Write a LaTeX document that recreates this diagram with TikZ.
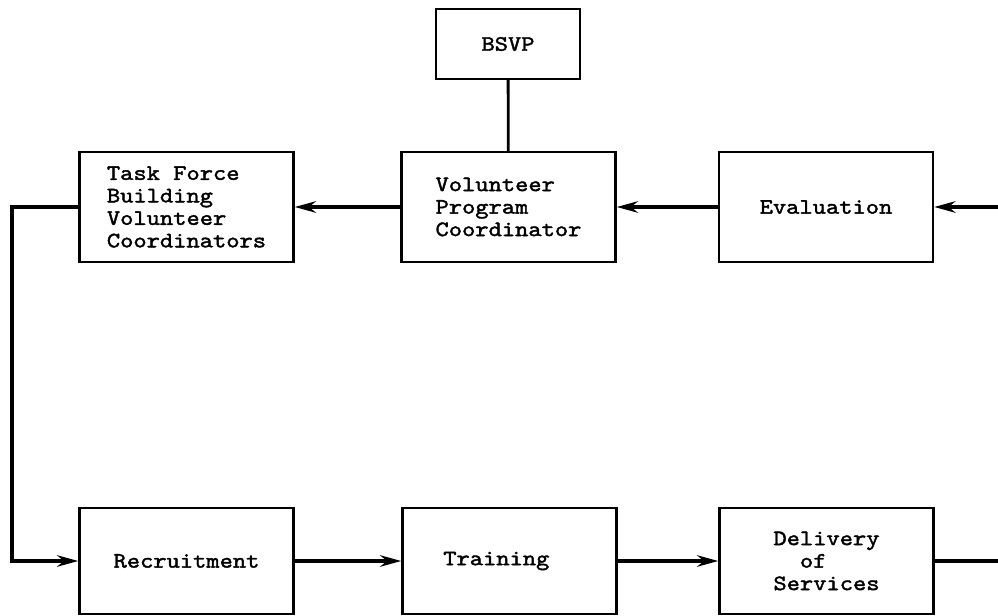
\documentclass[tikz,border=0pt]{standalone}
\usepackage{fontspec}
\newfontfamily\typer{lmmono10-regular.otf}[FakeBold=1.8, FakeStretch=1.15]
\usepackage{tikz}
\usetikzlibrary{arrows.meta,calc}

\tikzset{
    box/.style={draw, line width=1.4pt, minimum width=4.28cm, align=left,
        font=\fontsize{12.5}{12.8}\typer, inner sep=0pt},
    flow/.style={line width=2pt, -{Stealth[length=12pt,width=6.5pt]}},
    link/.style={line width=1.6pt}
}

\begin{document}
\begin{tikzpicture}
    \useasboundingbox (0,0) rectangle (19.96,-12.32);

    % top
    \node[box, minimum width=2.88cm, minimum height=1.4cm] (bsvp) at (10.16,-0.88) {BSVP};

    % upper row
    \node[box, minimum height=2.2cm] (taskforce) at (3.73,-4.14)
        {Task Force\\Building\\Volunteer\\Coordinators};
    \node[box, minimum height=2.2cm] (coord) at (10.17,-4.14)
        {Volunteer\\Program\\Coordinator};
    \node[box, minimum height=2.2cm] (evaluation) at (16.52,-4.14) {Evaluation};

    % lower row
    \node[box, minimum height=2.12cm] (recruit) at (3.73,-11.22) {Recruitment};
    \node[box, minimum height=2.12cm] (training) at (10.19,-11.22) {Training\hspace{1.2em}};
    \node[box, minimum height=2.12cm] (delivery) at (16.53,-11.22)
        {Delivery\\\ \ of\\Services};

    % loop ends
    \coordinate (leftup) at (0.24,-4.14);
    \coordinate (rightup) at (19.96,-4.14);
    \coordinate (rightdown) at (19.96,-11.22);

    % connectors
    \draw[link] (bsvp) -- (coord);
    \draw[flow] (rightup) -- (evaluation.east);
    \draw[flow] (evaluation) -- (coord);
    \draw[flow] (coord) -- (taskforce);
    \draw[flow] (taskforce.west) -- (leftup) |- (recruit.west);
    \draw[flow] (recruit) -- (training);
    \draw[flow] (training) -- (delivery);
    \draw[flow, -] (delivery.east) -- (rightdown);
\end{tikzpicture}
\end{document}
